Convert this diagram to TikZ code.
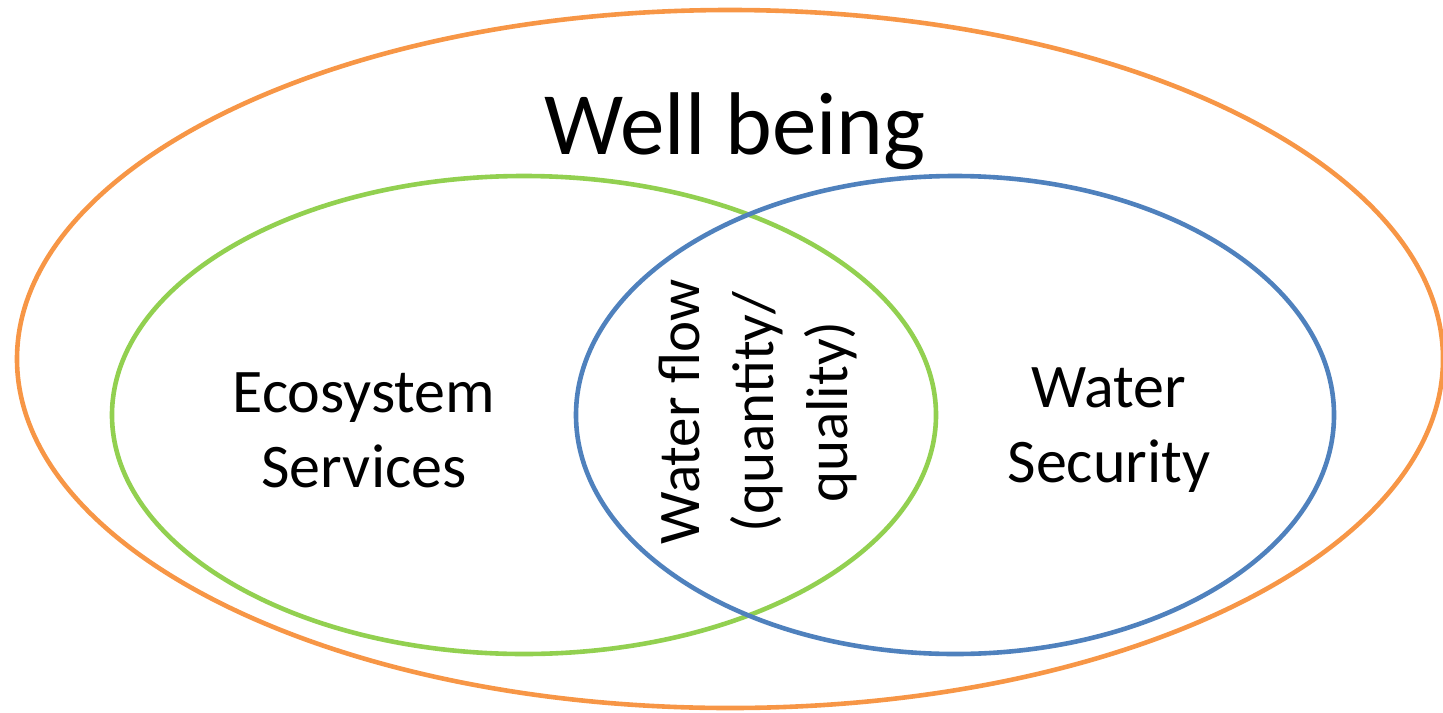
\documentclass[tikz,border=0pt]{standalone}
\usepackage{fontspec}
\setmainfont{Carlito}
\usetikzlibrary{shapes.geometric}
\definecolor{wborange}{HTML}{F79646}
\definecolor{esgreen}{HTML}{92D050}
\definecolor{wsblue}{HTML}{4F81BD}
\tikzset{
  ring/.style={ellipse, draw, line width=2.3pt, inner sep=0pt, outer sep=0pt},
  label31/.style={align=center, font=\fontsize{31}{37.5}\selectfont, inner sep=0pt},
  labelrot/.style={align=center, font=\fontsize{29.5}{37}\selectfont, inner sep=0pt}
}
\begin{document}
\begin{tikzpicture}[x=0.5pt,y=-0.5pt]
\useasboundingbox (0,0) rectangle (1443,712);
\node[ring, draw=wborange, minimum width=713pt, minimum height=349pt] (well) at (730,359) {};
\node[ring, draw=esgreen, minimum width=412pt, minimum height=239pt] (eco) at (524,415) {};
\node[ring, draw=wsblue, minimum width=379pt, minimum height=239pt] (sec) at (955,415) {};
\node[font=\fontsize{44.5}{52}\selectfont, inner sep=0pt] (wbt) at (735,131) {Well being};
\node[label31] (ecot) at (364,430) {Ecosystem\\Services};
\node[label31] (sect) at (1109,430) {Water\\Security};
\node[labelrot, rotate=90] (flow) at (758,412) {Water flow\\(quantity/\\quality)};
\end{tikzpicture}
\end{document}
